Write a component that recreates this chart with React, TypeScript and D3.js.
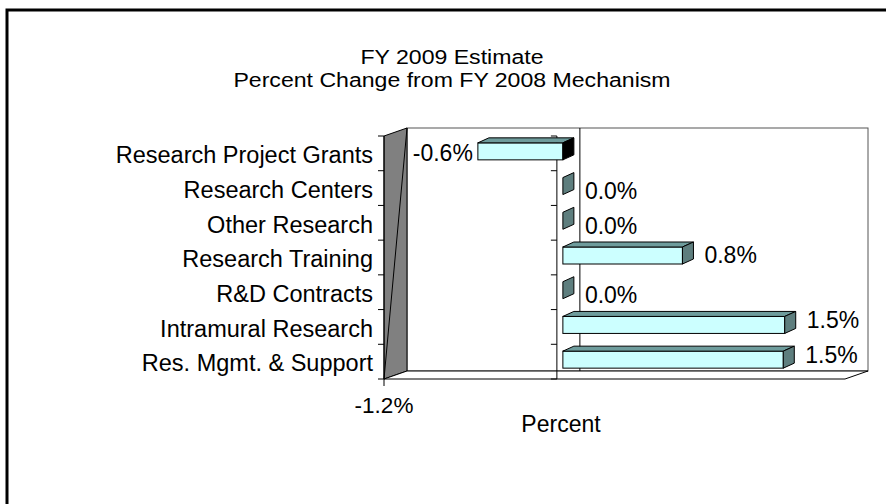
import React, { useEffect, useRef } from "react";
import * as d3 from "d3";

const categories = [
  "Research Project Grants",
  "Research Centers",
  "Other Research",
  "Research Training",
  "R&D Contracts",
  "Intramural Research",
  "Res. Mgmt. & Support",
];
const values = [-0.59, 0, 0, 0.83, 0, 1.54, 1.53];
const valueLabels = ["-0.6%", "0.0%", "0.0%", "0.8%", "0.0%", "1.5%", "1.5%"];
const xTicks = [-1.2];
const xTickLabels = ["-1.2%"];
const titleLines = ["FY 2009 Estimate", "Percent Change from FY 2008 Mechanism"];
const axisTitle = "Percent";

const App = () => {
  const svgRef = useRef<SVGSVGElement>(null);

  useEffect(() => {
    const svg = d3.select(svgRef.current);
    svg.selectAll("*").remove();

    const font = "'Liberation Sans', Arial, sans-serif";
    // depth of the 3d box (front plane -> back wall)
    const dx = 23, dy = -8;
    // bar placement inside the depth
    const ox = 6, oy = -2, bdx = 11, bdy = -5, barH = 17;

    const x = d3.scaleLinear().domain([-1.2, 2.0]).range([384, 845]);
    const y = d3.scaleBand().domain(categories).range([136, 379]);
    const [left, right] = x.range();
    const [top, bottom] = y.range();
    const x0 = x(0);
    const bw = y.bandwidth();

    // outer frame
    svg.append("rect")
      .attr("x", 7).attr("y", 10)
      .attr("width", 1000).attr("height", 1000)
      .attr("fill", "none")
      .attr("stroke", "#000")
      .attr("stroke-width", 3);

    // title (text in the original is a bit wide, so stretch it)
    svg.append("g")
      .attr("transform", "translate(452,0) scale(1.1,1)")
      .selectAll("text")
      .data(titleLines)
      .enter().append("text")
      .attr("x", 0)
      .attr("y", (d, i) => 64 + i * 23)
      .attr("text-anchor", "middle")
      .attr("font-family", font)
      .attr("font-size", "21px")
      .text(d => d);

    // back wall
    svg.append("rect")
      .attr("x", left + dx).attr("y", top + dy)
      .attr("width", right - left).attr("height", bottom - top)
      .attr("fill", "#fff")
      .attr("stroke", "#555");

    // gridline at zero on back wall
    svg.append("line")
      .attr("x1", x0 + dx).attr("x2", x0 + dx)
      .attr("y1", top + dy).attr("y2", bottom + dy)
      .attr("stroke", "#000");

    // side wall
    svg.append("polygon")
      .attr("points", [[left, top], [left + dx, top + dy], [left + dx, bottom + dy], [left, bottom]].map(p => p.join(",")).join(" "))
      .attr("fill", "#808080")
      .attr("stroke", "#000");
    svg.append("line")
      .attr("x1", left).attr("y1", bottom)
      .attr("x2", left + dx).attr("y2", top + dy)
      .attr("stroke", "#000");

    // floor
    svg.append("polygon")
      .attr("points", [[left, bottom], [right, bottom], [right + dx, bottom + dy], [left + dx, bottom + dy]].map(p => p.join(",")).join(" "))
      .attr("fill", "#fff")
      .attr("stroke", "#000");

    // axes lines + ticks
    const bounds = d3.range(categories.length + 1).map(i => top + i * bw);
    svg.append("line")
      .attr("x1", left).attr("x2", left)
      .attr("y1", top).attr("y2", bottom + 7)
      .attr("stroke", "#000");
    svg.append("line")
      .attr("x1", x0).attr("x2", x0)
      .attr("y1", top).attr("y2", bottom)
      .attr("stroke", "#000");
    [left, x0].forEach(ax => {
      svg.append("g").selectAll("line")
        .data(bounds)
        .enter().append("line")
        .attr("x1", ax - 6).attr("x2", ax)
        .attr("y1", d => d).attr("y2", d => d)
        .attr("stroke", "#000");
    });

    // bars
    const bars = svg.append("g");
    categories.forEach((c, i) => {
      const v = values[i];
      const yt = y(c)! + bw / 2 - barH / 2 + oy;
      const yb = yt + barH;
      const xa = Math.min(x(v), x0) + ox;
      const xb = Math.max(x(v), x0) + ox;
      if (xb - xa > 0.5) {
        bars.append("rect")
          .attr("x", xa).attr("y", yt)
          .attr("width", xb - xa).attr("height", barH)
          .attr("fill", "#CCFFFF")
          .attr("stroke", "#000");
        bars.append("polygon")
          .attr("points", [[xa, yt], [xa + bdx, yt + bdy], [xb + bdx, yt + bdy], [xb, yt]].map(p => p.join(",")).join(" "))
          .attr("fill", "#6E9C9C")
          .attr("stroke", "#000");
      }
      bars.append("polygon")
        .attr("points", [[xb, yt], [xb + bdx, yt + bdy], [xb + bdx, yb + bdy], [xb, yb]].map(p => p.join(",")).join(" "))
        .attr("fill", v < 0 ? "#000" : "#5E7E7E")
        .attr("stroke", "#000");

      // value label
      const cy = y(c)! + bw / 2;
      if (v < 0) {
        bars.append("text")
          .attr("x", xa - 5).attr("y", cy)
          .attr("dy", "0.35em")
          .attr("text-anchor", "end")
          .attr("font-family", font).attr("font-size", "23px")
          .text(valueLabels[i]);
      } else {
        bars.append("text")
          .attr("x", xb + bdx + 11)
          .attr("y", cy + 3 - 0.045 * (x(v) - x0))
          .attr("dy", "0.35em")
          .attr("font-family", font).attr("font-size", "23px")
          .text(valueLabels[i]);
      }
    });

    // category labels
    svg.append("g").selectAll("text")
      .data(categories)
      .enter().append("text")
      .attr("x", 373)
      .attr("y", d => y(d)! + bw / 2 + 1.5)
      .attr("dy", "0.35em")
      .attr("text-anchor", "end")
      .attr("font-family", font)
      .attr("font-size", "23.5px")
      .text(d => d);

    // value axis tick labels
    svg.append("g").selectAll("text")
      .data(xTicks)
      .enter().append("text")
      .attr("x", d => x(d))
      .attr("y", 413)
      .attr("text-anchor", "middle")
      .attr("font-family", font)
      .attr("font-size", "22.5px")
      .text((d, i) => xTickLabels[i]);

    svg.append("text")
      .attr("x", 561)
      .attr("y", 432)
      .attr("text-anchor", "middle")
      .attr("font-family", font)
      .attr("font-size", "23px")
      .text(axisTitle);
  }, []);

  return (
    <svg
      ref={svgRef}
      width={886}
      height={504}
      style={{ position: "absolute", left: 0, top: 0, background: "#fff" }}
    ></svg>
  );
};

export default App;
